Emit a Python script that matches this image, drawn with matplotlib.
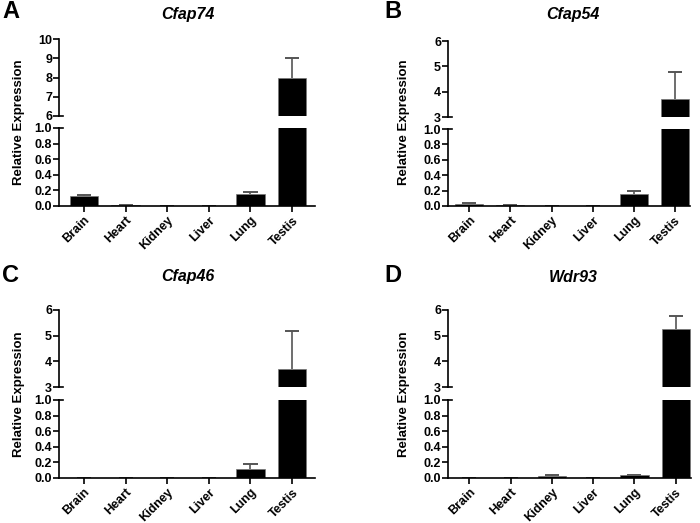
import numpy as np
import matplotlib
matplotlib.use("Agg")
import matplotlib.pyplot as plt

plt.rcParams["font.family"] = ["Liberation Sans", "DejaVu Sans"]
plt.rcParams["font.weight"] = "bold"

tissues = ["Brain", "Heart", "Kidney", "Liver", "Lung", "Testis"]

genes = ["Cfap74", "Cfap54", "Cfap46", "Wdr93"]
letters = ["A", "B", "C", "D"]

cfap74_mean = [0.13, 0.008, 0.001, 0.0005, 0.16, 7.95]
cfap74_err = [0.01, 0.003, 0.0, 0.0, 0.02, 1.05]
cfap54_mean = [0.03, 0.01, 0.004, 0.001, 0.15, 3.70]
cfap54_err = [0.005, 0.003, 0.0, 0.0, 0.05, 1.06]
cfap46_mean = [0.005, 0.003, 0.001, 0.001, 0.12, 3.69]
cfap46_err = [0.0, 0.0, 0.0, 0.0, 0.06, 1.48]
wdr93_mean = [0.002, 0.001, 0.03, 0.001, 0.035, 5.27]
wdr93_err = [0.0, 0.0, 0.003, 0.0, 0.004, 0.48]

means = [cfap74_mean, cfap54_mean, cfap46_mean, wdr93_mean]
errs = [cfap74_err, cfap54_err, cfap46_err, wdr93_err]
upper_lims = [(6, 10), (3, 6), (3, 6), (3, 6)]
upper_ticks = [[6, 7, 8, 9, 10], [3, 4, 5, 6], [3, 4, 5, 6], [3, 4, 5, 6]]
lower_ticks = [0.0, 0.2, 0.4, 0.6, 0.8, 1.0]

W, H = 700, 523
# pixel boxes: (x0, x1, upper_top, upper_bottom, lower_top, lower_bottom)
boxes = [
    (59, 315, 39, 116, 128, 206),
    (448, 690, 41, 117, 129, 206),
    (59, 315, 310, 387, 400, 478),
    (448, 691, 310, 387, 400, 478),
]
xlims = [(-0.6, 5.55), (-0.52, 5.37), (-0.6, 5.55), (-0.52, 5.37)]
titles_xy = [(188, 14), (573, 15), (188, 277), (573, 277)]
letters_xy = [(2, 12), (384, 12), (2, 276), (384, 276)]
ylabel_xy = [(19, 122), (404, 122), (19, 394), (404, 394)]

fig = plt.figure(figsize=(W / 100, H / 100), dpi=100)


def pax(x0, x1, top, bot):
    return fig.add_axes([x0 / W, 1 - bot / H, (x1 - x0) / W, (bot - top) / H])


x = np.arange(len(tissues))
bw = 0.68
cap = 0.17
for i in range(4):
    x0, x1, ut, ub, lt, lb = boxes[i]
    up = pax(x0, x1, ut, ub)
    lo = pax(x0, x1, lt, lb)
    m = np.array(means[i])
    top = m + np.array(errs[i])
    for ax in (up, lo):
        # upper-only SD bars, drawn under the bars
        ax.vlines(x, m, top, color="#6e6e6e", lw=1.4, zorder=1)
        ax.hlines(top, x - cap, x + cap, color="#555555", lw=1.4, zorder=1)
        ax.bar(x, m, width=bw, color="black", edgecolor="#777777",
               linewidth=0.5, zorder=2)
        ax.set_xlim(*xlims[i])
        for s in ("top", "right"):
            ax.spines[s].set_visible(False)
        ax.spines["left"].set_linewidth(1.2)
        ax.spines["bottom"].set_linewidth(1.2)
        ax.tick_params(axis="y", length=4, width=1.2, labelsize=9, pad=1)
        ax.tick_params(axis="x", length=4, width=1.2, labelsize=9, pad=2)
    up.set_ylim(*upper_lims[i])
    up.set_yticks(upper_ticks[i])
    up.set_yticklabels([str(t) for t in upper_ticks[i]])
    up.spines["bottom"].set_visible(False)
    up.set_xticks([])
    lo.set_ylim(0, 1.0)
    lo.set_yticks(lower_ticks)
    lo.set_yticklabels([f"{t:.1f}" for t in lower_ticks])
    lo.set_xticks(x)
    lo.set_xticklabels(tissues, rotation=45, ha="right", rotation_mode="anchor")
    # break marks: stub crossing the spine at the cut edges
    up.plot([0, 0.016], [upper_lims[i][0]] * 2, color="black", lw=1.2,
            transform=up.get_yaxis_transform(), clip_on=False)
    lo.plot([0, 0.016], [1.0, 1.0], color="black", lw=1.2,
            transform=lo.get_yaxis_transform(), clip_on=False)

    tx, ty = titles_xy[i]
    fig.text(tx / W, 1 - ty / H, genes[i], fontsize=11.5, fontstyle="italic",
             fontweight="bold", ha="center", va="center")
    lx, ly = letters_xy[i]
    fig.text(lx / W, 1 - ly / H, letters[i], fontsize=17, fontweight="bold",
             ha="left", va="center")
    yx, yy = ylabel_xy[i]
    fig.text(yx / W, 1 - yy / H, "Relative Expression", fontsize=9.5,
             fontweight="bold", rotation=90, ha="center", va="center")

fig.savefig("out.png", dpi=100)
